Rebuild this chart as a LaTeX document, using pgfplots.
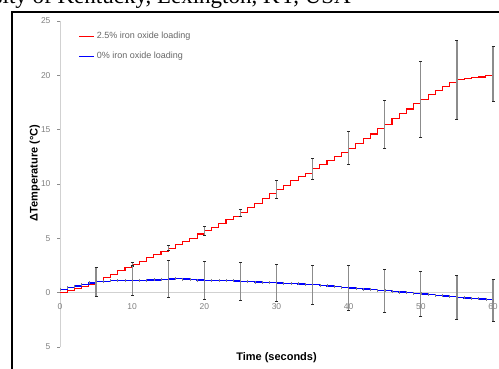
\documentclass[border=0pt]{standalone}
\usepackage{pgfplots}
\pgfplotsset{compat=1.18}
\usepackage{fontspec}
\setmainfont{Liberation Sans}
\newfontfamily\seriffont{Liberation Serif}
\begin{document}
\begin{tikzpicture}
\useasboundingbox (0pt,0pt) rectangle (499pt,369pt);
\clip (0pt,0pt) rectangle (499pt,369pt);
% header text line (cropped) and frame
\node[anchor=base east, inner sep=0pt, font=\seriffont\fontsize{23}{27}\selectfont] at (351pt,365.5pt) {University of Kentucky, Lexington, KY, USA};
\draw[line width=1.6pt, black] (12pt,-5pt) -- (12pt,357pt) -- (510pt,357pt);
\begin{axis}[
  at={(60pt,22pt)}, anchor=south west,
  scale only axis, width=433pt, height=326pt,
  xmin=0, xmax=60, ymin=-5, ymax=25,
  axis y line*=left, axis x line*=middle,
  hide obscured x ticks=false, hide obscured y ticks=false,
  axis line style={black!18, line width=0.6pt},
  xtick={0,10,...,60}, ytick={-5,0,5,10,15,20,25},
  yticklabels={5,0,5,10,15,20,25},
  /pgf/number format/assume math mode=true,
  tick style={black!45, line width=0.5pt},
  tick align=outside,
  x tick style={draw=none},
  major tick length=3pt,
  tick label style={font=\fontsize{8.5}{9}\selectfont, text=black!50},
  xticklabel style={yshift=-4pt},
  yticklabel style={xshift=-3pt},
  xlabel={Time (seconds)},
  ylabel={ΔTemperature (°C)},
  xlabel style={at={(axis description cs:0.5,0)}, anchor=north, yshift=-2pt, font=\bfseries\fontsize{11}{12}\selectfont},
  ylabel style={at={(axis description cs:-0.058,0.534)}, anchor=center, font=\bfseries\fontsize{11}{12}\selectfont},
  legend style={at={(axis description cs:0.042,0.972)}, anchor=north west, draw=none, fill=none,
    font=\fontsize{9}{10}\selectfont, text=black!60, row sep=8pt, inner sep=0pt},
  legend cell align=left,
  legend image code/.code={\draw[#1,mark=none] (0pt,0pt) -- (15pt,0pt);},
  clip=false,
]
% red series: 2.5% iron oxide loading
\addplot[color=red, line width=1.1pt, const plot, mark=none] coordinates {
(0,0.0)(1,0.2)(2,0.4)(3,0.6)(4,0.8)(5,1.0)(6,1.4)(7,1.7)(8,2.0)(9,2.3)
(10,2.6)(11,2.9)(12,3.2)(13,3.5)(14,3.8)(15,4.1)(16,4.4)(17,4.7)(18,5.0)(19,5.4)
(20,5.7)(21,6.0)(22,6.4)(23,6.7)(24,7.0)(25,7.35)(26,7.8)(27,8.2)(28,8.7)(29,9.1)
(30,9.5)(31,9.9)(32,10.3)(33,10.7)(34,11.0)(35,11.4)(36,11.8)(37,12.2)(38,12.5)(39,12.9)
(40,13.3)(41,13.7)(42,14.2)(43,14.6)(44,15.1)(45,15.5)(46,16.0)(47,16.5)(48,16.9)(49,17.4)
(50,17.8)(51,18.2)(52,18.6)(53,19.0)(54,19.3)(55,19.6)(56,19.7)(57,19.8)(58,19.85)(59,19.95)(60,20.1)
};
\addlegendentry{2.5\% iron oxide loading}
% blue series: 0% iron oxide loading
\addplot[color=blue, line width=1.4pt, const plot, mark=|, mark size=1.5pt, mark options={draw=black!50, line width=0.5pt}] coordinates {
(0,0.3)(1,0.45)(2,0.6)(3,0.75)(4,0.9)(5,1.0)(6,1.05)(7,1.1)(8,1.12)(9,1.13)
(10,1.13)(11,1.14)(12,1.15)(13,1.18)(14,1.22)(15,1.26)(16,1.3)(17,1.25)(18,1.2)(19,1.15)
(20,1.13)(21,1.12)(22,1.1)(23,1.1)(24,1.08)(25,1.05)(26,1.0)(27,0.98)(28,0.95)(29,0.92)
(30,0.89)(31,0.87)(32,0.85)(33,0.8)(34,0.77)(35,0.74)(36,0.68)(37,0.62)(38,0.55)(39,0.5)
(40,0.43)(41,0.38)(42,0.33)(43,0.28)(44,0.22)(45,0.18)(46,0.12)(47,0.06)(48,0.0)(49,-0.06)
(50,-0.12)(51,-0.18)(52,-0.24)(53,-0.3)(54,-0.37)(55,-0.43)(56,-0.48)(57,-0.53)(58,-0.58)(59,-0.64)(60,-0.7)
};
\addlegendentry{0\% iron oxide loading}
% error bars, red
\addplot[forget plot, draw=none, mark=none,
  error bars/.cd, y dir=both, y explicit,
  error bar style={black!45, line width=1.3pt},
  error mark options={rotate=90, mark size=1.5pt, black!85, line width=0.8pt}]
  coordinates {
(10,2.6) +- (0,0.2)
(15,4.1) +- (0,0.25)
(20,5.7) +- (0,0.4)
(25,7.35) +- (0,0.3)
(30,9.5) +- (0,0.85)
(35,11.4) +- (0,1.0)
(40,13.3) +- (0,1.5)
(45,15.5) +- (0,2.2)
(50,17.8) +- (0,3.5)
(55,19.6) +- (0,3.65)
(60,20.15) +- (0,2.55)
};
% error bars, blue
\addplot[forget plot, draw=none, mark=none,
  error bars/.cd, y dir=both, y explicit,
  error bar style={black!45, line width=1.3pt},
  error mark options={rotate=90, mark size=1.5pt, black!85, line width=0.8pt}]
  coordinates {
(5,1.0) +- (0,1.3)
(10,1.13) +- (0,1.38)
(15,1.26) +- (0,1.7)
(20,1.13) +- (0,1.76)
(25,1.05) +- (0,1.75)
(30,0.89) +- (0,1.7)
(35,0.74) +- (0,1.8)
(40,0.43) +- (0,2.05)
(45,0.18) +- (0,2.0)
(50,-0.12) +- (0,2.05)
(55,-0.43) +- (0,2.0)
(60,-0.7) +- (0,1.9)
};
\end{axis}
\end{tikzpicture}
\end{document}
